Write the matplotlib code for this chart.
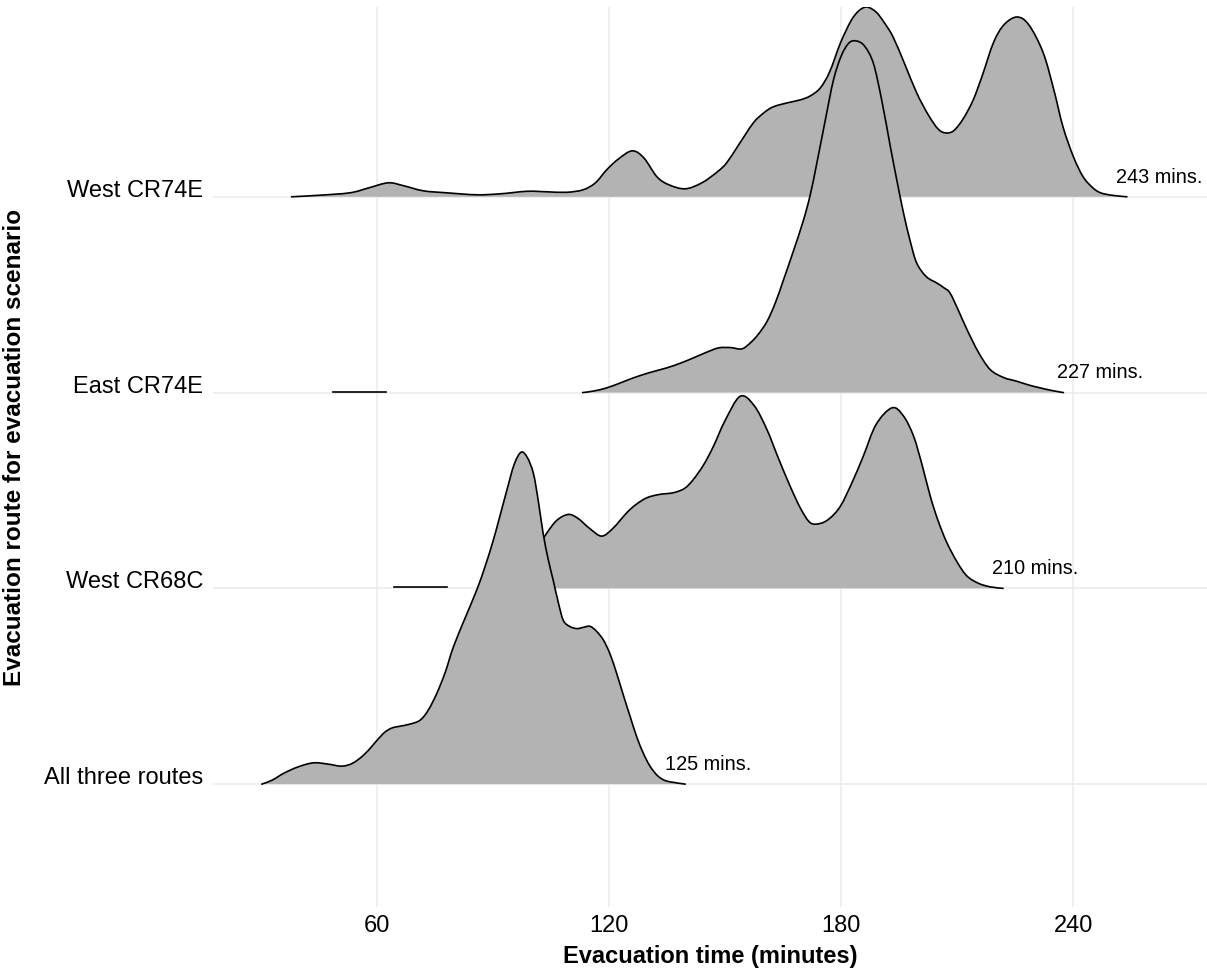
import numpy as np
import matplotlib
matplotlib.use("Agg")
import matplotlib.pyplot as plt
from matplotlib.path import Path
from matplotlib.patches import PathPatch

plt.rcParams['font.family'] = ['Liberation Sans', 'DejaVu Sans']

# ---- data (heights in px; one row spacing = 196 px) ----
categories = ["All three routes", "West CR68C", "East CR74E", "West CR74E"]
max_labels = ["125 mins.", "210 mins.", "227 mins.", "243 mins."]
label_x = [134.5, 219.0, 235.8, 251.0]

w74_t = [38.0, 45, 53.1, 58, 63, 67, 72, 78, 85.8, 92, 98.8, 104, 109, 113.3, 116.5, 119.4,
         122.5, 126, 129, 132.4, 135.5, 139.7, 144, 148, 150.4, 153.5, 157.3, 160, 162.4, 166,
         169.4, 172, 174.6, 177, 179.8, 182.5, 184.5, 186.6, 189, 191, 193.4, 196.5, 199.5,
         202.5, 205, 206.9, 209, 211.5, 214.1, 216.5, 219.3, 222, 225.4, 228.5, 232.2, 235,
         237.3, 240, 242.5, 245, 247, 250, 253.8]
w74_px = [0, 1.5, 4, 9, 14, 11, 6, 4, 2, 3, 5.5, 5, 4.5, 7, 14, 27,
          38, 46, 39, 20, 12, 8, 14, 25, 34, 52, 74, 84, 90, 94,
          97, 101, 109, 125, 154, 176, 186, 190, 185, 175, 160, 132, 104,
          82, 68, 64, 66, 78, 97, 122, 154, 172, 180, 172, 144, 106,
          70, 40, 20, 9, 4, 1.5, 0]

e74_t = [113.2, 116, 119.4, 122.5, 126.3, 130.5, 134.9, 138.5, 141.8, 145, 148.3, 151.5, 154.3,
         156.5, 158.5, 160.8, 163, 165.1, 167.5, 170.2, 172, 173.7, 176, 178, 180, 182, 183.9,
         186, 188.3, 190.5, 192.7, 194.5, 196.1, 197.8, 199.5, 202, 204.7, 206.5, 208.1, 210.3,
         212.5, 215.5, 218.5, 222, 225.4, 228.5, 231.4, 234.5, 237.4]
e74_px = [0, 1.5, 4.7, 9, 14.7, 20, 24.7, 29.5, 34.7, 40, 44.7, 45, 43.7,
          49.7, 58, 71, 90, 113, 140, 172, 198, 229.7, 275, 313, 337, 350, 352,
          347, 329.7, 292, 246, 210, 179.7, 152, 129.7, 116, 109.7, 105, 99.7, 82,
          63, 40, 23, 15, 11.3, 7.5, 4.7, 2, 0]
e74_small_t = [48.7, 62.4]
e74_small_px = [1, 1]

w68_t = [92, 95, 98, 101, 103.7, 106.5, 109.5, 112, 115, 118.1, 121, 124.6, 127, 129.8, 133,
         136.6, 139.5, 141.8, 144.5, 147, 150, 153.9, 157.5, 160.8, 163.8, 166.8, 169.5, 172,
         174.6, 177, 179.8, 182.8, 185.7, 189, 193.1, 196, 198.7, 201, 203, 205, 207.3, 210,
         212.5, 215.5, 218.5, 221.8]
w68_px = [0, 8, 20, 37, 54, 68, 74, 70, 60, 52.3, 60, 75.7, 84, 90.7, 94,
          95.7, 100, 109, 124, 142.3, 168, 192.3, 183, 159, 130, 102.3, 80, 65.7,
          65, 70, 82.3, 106, 132.3, 164, 180.7, 173, 152.3, 122, 92.3, 68, 45.7, 26,
          12.3, 5, 1.5, 0]
w68_small_t = [64.5, 78.1]
w68_small_px = [1, 1]

all_t = [30.3, 33, 35.9, 39.5, 43.6, 47.5, 51, 53.8, 56.6, 59, 61.7, 63.8, 66, 68.5, 71.2, 73.3,
         75.5, 77.7, 79.8, 82.8, 85.8, 88, 90.1, 91.8, 93.6, 95.5, 97.3, 98.9, 100.5, 101.8, 103,
         104.3, 105.6, 106.9, 108.2, 109.8, 111.7, 113.4, 115.1, 116.8, 118.6, 120.3, 122, 123.8,
         125.5, 127.2, 128.9, 130.6, 132.4, 134, 135.8, 139.7]
all_px = [0, 4, 10.7, 17, 21.3, 20, 18, 21, 29, 39, 50.7, 56, 58, 60, 64, 74,
          90.7, 112, 137.3, 166, 194, 218, 244, 268, 294, 320, 332.3, 327, 310.7, 282, 250.7,
          225, 204, 182, 164, 158, 155.7, 157, 158, 153, 144, 130, 110.7, 88,
          67.3, 47, 30.7, 18, 9, 4.5, 2.3, 0]

ROW = 196.0
series = [
    (all_t, all_px, None, None),
    (w68_t, w68_px, w68_small_t, w68_small_px),
    (e74_t, e74_px, e74_small_t, e74_small_px),
    (w74_t, w74_px, None, None),
]


def smooth_path_verts(x, y):
    """Catmull-Rom through the read points, expressed as cubic Bezier segments."""
    x = np.asarray(x, float)
    y = np.asarray(y, float)
    n = len(x)
    verts = [(x[0], y[0])]
    codes = [Path.MOVETO]
    for i in range(n - 1):
        x0, y0 = (x[i - 1], y[i - 1]) if i > 0 else (x[i], y[i])
        x1, y1 = x[i], y[i]
        x2, y2 = x[i + 1], y[i + 1]
        x3, y3 = (x[i + 2], y[i + 2]) if i + 2 < n else (x2, y2)
        c1 = (x1 + (x2 - x0) / 6.0, y1 + (y2 - y0) / 6.0)
        c2 = (x2 - (x3 - x1) / 6.0, y2 - (y3 - y1) / 6.0)
        verts += [c1, c2, (x2, y2)]
        codes += [Path.CURVE4] * 3
    return verts, codes


fig = plt.figure(figsize=(12.07, 9.76), dpi=100)
ax = fig.add_axes([213 / 1207, 1 - 907 / 976, 1 - 213 / 1207, (907 - 7) / 976])

grid_c = "#EBEBEB"
for xv in [60, 120, 180, 240]:
    ax.axvline(xv, color=grid_c, lw=1.1, zorder=0)
for i in range(len(categories)):
    ax.axhline(i + 1, color=grid_c, lw=1.1, zorder=0)

# draw top rows first so lower rows overlay them
for i in reversed(range(len(series))):
    t, px, st, spx = series[i]
    base = i + 1
    h = base + np.array(px) / ROW
    z = 10 + (len(series) - i) * 2
    verts, codes = smooth_path_verts(t, h)
    fill_verts = verts + [(t[-1], base), (t[0], base), verts[0]]
    fill_codes = codes + [Path.LINETO, Path.LINETO, Path.CLOSEPOLY]
    ax.add_patch(PathPatch(Path(fill_verts, fill_codes), facecolor="#B3B3B3",
                           edgecolor="none", zorder=z))
    ax.add_patch(PathPatch(Path(verts, codes), facecolor="none", edgecolor="black",
                           lw=1.2, zorder=z + 1, capstyle="round", joinstyle="round"))
    if st is not None:
        ax.plot(st, base + np.array(spx) / ROW, color="black", lw=1.2, zorder=z + 1)
    ax.text(label_x[i], base + 0.1, max_labels[i], fontsize=14.3, ha="left", va="center",
            color="black", zorder=30)

ax.set_xlim(17.7, 274.5)
ax.set_ylim(1 - (907 - 784) / ROW, 4 + (197 - 7) / ROW)
ax.set_xticks([60, 120, 180, 240])
ax.set_xticklabels(["60", "120", "180", "240"])
ax.set_yticks([1, 2, 3, 4])
ax.set_yticklabels(categories)
for lab in ax.get_yticklabels():
    lab.set_verticalalignment("baseline")
ax.tick_params(axis="both", length=0, labelsize=17, colors="black")
ax.tick_params(axis="x", pad=6)
ax.tick_params(axis="y", pad=7)
for s in ax.spines.values():
    s.set_visible(False)

ax.set_xlabel("Evacuation time (minutes)", fontsize=17, fontweight="bold")
ax.xaxis.set_label_coords(0.5, (907 - 956) / 900)
ax.xaxis.label.set_verticalalignment("center")
ax.set_ylabel("Evacuation route for evacuation scenario", fontsize=17.5, fontweight="bold")
ax.yaxis.set_label_coords((15 - 213) / 994, (907 - 447) / 900)
ax.yaxis.label.set_verticalalignment("center")

fig.savefig("out.png", dpi=100)
